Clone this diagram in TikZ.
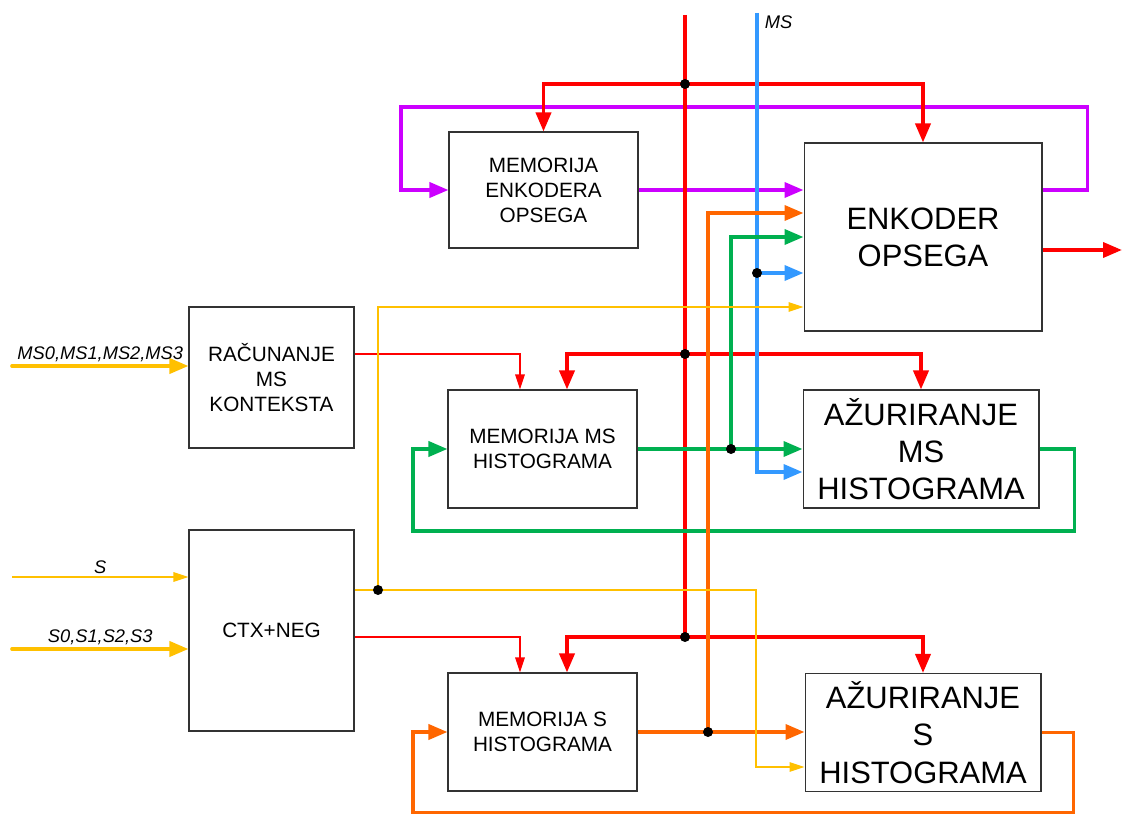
\documentclass[tikz,border=0pt]{standalone}
\usepackage{fontspec}
\setmainfont{Liberation Sans}
\usetikzlibrary{arrows.meta,positioning,calc}
\definecolor{LinkRed}{HTML}{FF0000}
\definecolor{LinkBlue}{HTML}{3399FF}
\definecolor{LinkViolet}{HTML}{CC00FF}
\definecolor{LinkOrange}{HTML}{FF6600}
\definecolor{LinkGreen}{HTML}{00B050}
\definecolor{LinkYellow}{HTML}{FFC000}
\definecolor{BoxLine}{HTML}{333333}

\tikzset{
  block/.style={draw=BoxLine, line width=0.6pt, fill=white, align=center, inner sep=2pt,
    font=\fontsize{11.8}{14.2}\selectfont},
  bigblock/.style={block, font=\fontsize{17.6}{21.2}\selectfont},
  bus/.style={line width=2.1pt, -{Triangle[length=3.8mm,width=3mm]}},
  sig/.style={line width=0.8pt, -{Triangle[length=3mm,width=1.9mm]}},
  plain/.style={line width=2.1pt},
  tag/.style={font=\fontsize{10.4}{12.5}\selectfont\itshape, inner sep=1.5pt, text=black}
}

\begin{document}
\begin{tikzpicture}[x=0.02cm,y=-0.02cm]
  \useasboundingbox (0,0) rectangle (1123,814);

  \node[block, minimum width=3.78cm, minimum height=2.32cm] (memenc) at (543.5,190) {MEMORIJA\\ENKODERA\\OPSEGA};
  \node[bigblock, minimum width=4.76cm, minimum height=3.76cm] (enc) at (923,237) {ENKODER\\OPSEGA};
  \node[block, minimum width=3.30cm, minimum height=2.82cm] (racun) at (271.5,377.5) {RAČUNANJE\\MS\\KONTEKSTA};
  \node[block, minimum width=3.78cm, minimum height=2.36cm] (memms) at (542.5,449) {MEMORIJA MS\\HISTOGRAMA};
  \node[bigblock, minimum width=4.72cm, minimum height=2.36cm] (azms) at (921,449) {AŽURIRANJE\\MS\\HISTOGRAMA};
  \node[block, minimum width=3.30cm, minimum height=4.02cm] (ctx) at (271.5,630.5) {CTX+NEG};
  \node[block, minimum width=3.78cm, minimum height=2.36cm] (mems) at (542.5,732) {MEMORIJA S\\HISTOGRAMA};
  \node[bigblock, minimum width=4.72cm, minimum height=2.36cm] (azs) at (923,732.5) {AŽURIRANJE\\S\\HISTOGRAMA};

  \coordinate (redtop) at (685,15);
  \coordinate (bluetop) at (757,13);
  \coordinate (jr1) at (685,84);
  \coordinate (jr2) at (685,354);
  \coordinate (jr3) at (685,637);
  \coordinate (jb) at (757,273);
  \coordinate (jg) at (731,449);
  \coordinate (jo) at (708,732);
  \coordinate (jy) at (378,590);
  \coordinate (out) at (1122,250);
  \coordinate (inms) at (12,366);
  \coordinate (ins) at (12,577);
  \coordinate (insn) at (12,649);

  \draw[bus, LinkViolet] (memenc.east) -- (enc.west |- memenc.east);
  \draw[bus, LinkViolet] (enc.east |- memenc.east) -- ++(45,0) |- (401,107) |- (memenc.west);

  \draw[plain, LinkRed] (redtop) -- (jr3);
  \draw[bus, LinkRed] (jr1) -| (memenc.north);
  \draw[bus, LinkRed] (jr1) -| (enc.north);
  \draw[bus, LinkRed] (jr2) -| ([xshift=0.49cm]memms.north);
  \draw[bus, LinkRed] (jr2) -| (azms.north);
  \draw[bus, LinkRed] (jr3) -| ([xshift=0.49cm]mems.north);
  \draw[bus, LinkRed] (jr3) -| (azs.north);
  \draw[sig, LinkRed] (racun.east |- jr2) -| ([xshift=-0.45cm]memms.north);
  \draw[sig, LinkRed] (ctx.east |- jr3) -| ([xshift=-0.45cm]mems.north);
  \draw[bus, LinkRed] (enc.east |- out) -- (out);

  \draw[bus, LinkBlue] (bluetop) |- ([yshift=-0.46cm]azms.west);
  \draw[bus, LinkBlue] (jb) -- (enc.west |- jb);
  \node[tag, right] (mstag) at (762,22) {MS};

  \draw[bus, LinkGreen] (memms.east) -- (azms.west);
  \draw[bus, LinkGreen] (jg) |- (enc.west);
  \draw[bus, LinkGreen] (azms.east) -- ++(35,0) |- (413,531) |- (memms.west);

  \draw[bus, LinkOrange] (mems.east) -- (azs.west |- mems.east);
  \draw[bus, LinkOrange] (jo) |- ([yshift=0.48cm]enc.west);
  \draw[bus, LinkOrange] (azs.east) -- ++(32,0) |- (413,813) |- (mems.west);

  \draw[bus, LinkYellow, line cap=round] (inms) -- (racun.west |- inms)
    node[tag, midway, above] (msin) {MS0,MS1,MS2,MS3};
  \draw[sig, LinkYellow] (ins) -- (ctx.west |- ins)
    node[tag, midway, above] (sin) {S};
  \draw[bus, LinkYellow, line cap=round] (insn) -- (ctx.west |- insn)
    node[tag, midway, above] (snin) {S0,S1,S2,S3};
  \draw[sig, -, LinkYellow] (ctx.east |- jy) -- (jy);
  \draw[sig, LinkYellow] (jy) |- ([yshift=-1.4cm]enc.west);
  \draw[sig, LinkYellow] (jy) -- (756,590) |- ([yshift=-0.69cm]azs.west);

  \foreach \j in {jr1,jr2,jr3,jb,jg,jo,jy}
    \fill (\j) circle[radius=0.1cm];
\end{tikzpicture}
\end{document}
